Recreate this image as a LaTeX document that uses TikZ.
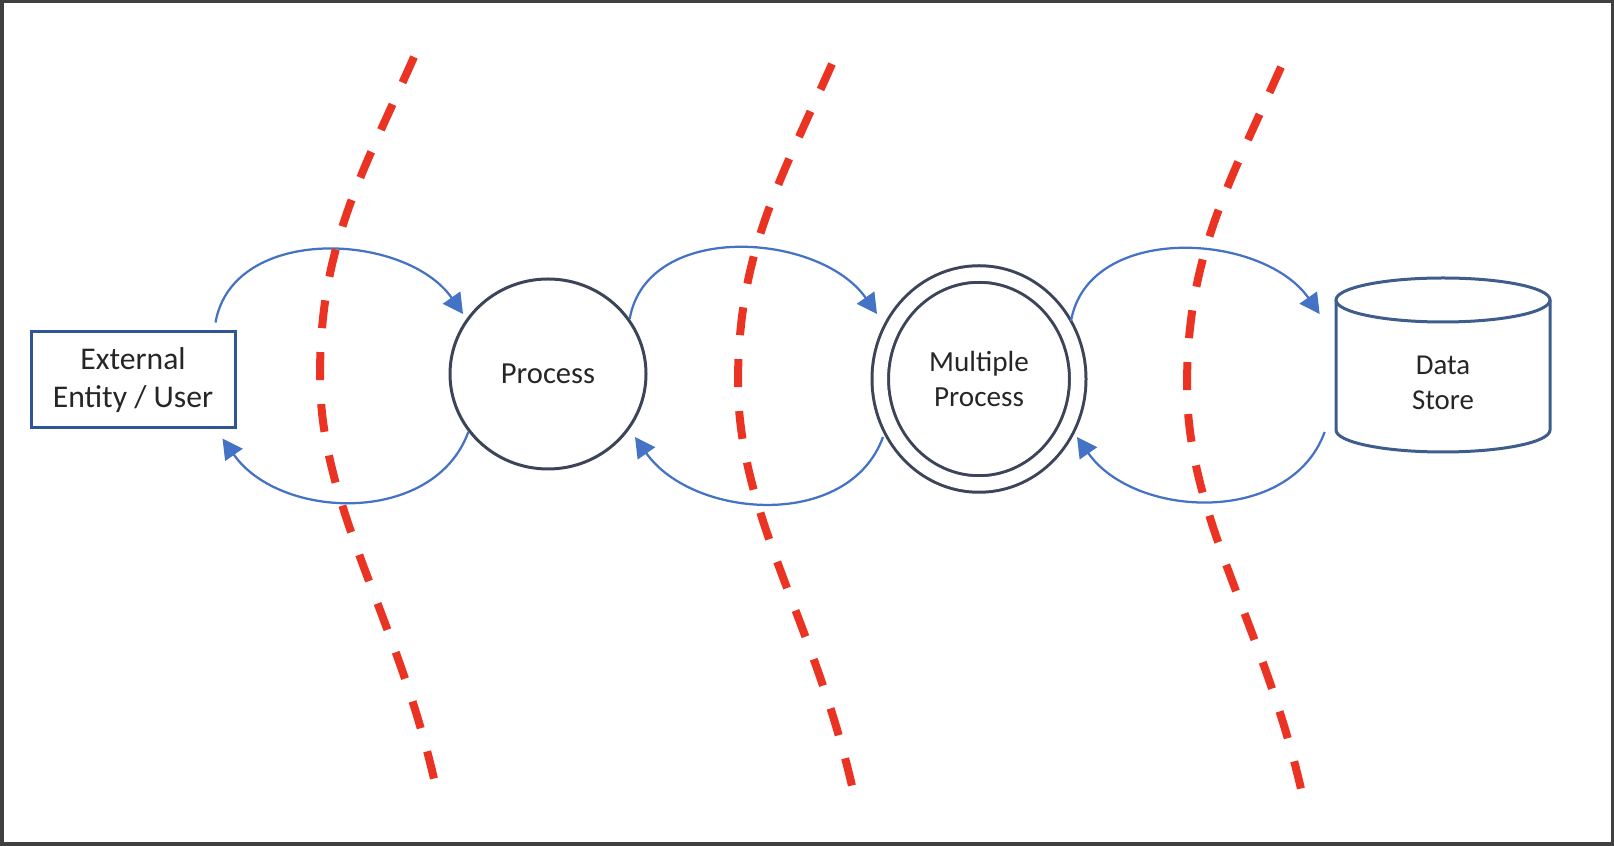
\documentclass[tikz,border=0pt]{standalone}
\usepackage{fontspec}
\setmainfont{Carlito}
\usepackage{xcolor}
\usetikzlibrary{shapes,arrows.meta}

\definecolor{flowblue}{RGB}{68,114,196}
\definecolor{boxblue}{RGB}{47,85,151}
\definecolor{circgray}{RGB}{59,68,88}
\definecolor{storeblue}{RGB}{62,92,140}
\definecolor{trustred}{RGB}{234,51,35}
\definecolor{textgray}{RGB}{38,38,38}
\definecolor{framegray}{RGB}{64,64,64}

\begin{document}
\begin{tikzpicture}[
  flow/.style={line width=0.045cm, flowblue, -{Triangle[length=0.4cm,width=0.42cm]}},
  boundary/.style={line width=0.16cm, trustred, dash pattern=on 0.56cm off 0.48cm},
  procshape/.style={ellipse, draw=circgray, line width=0.06cm, inner sep=0pt, align=center, text=textgray}
  ]
\useasboundingbox (0,0) rectangle (32.28,16.92);
\draw[line width=0.07cm, framegray] (0.035,0.035) rectangle (32.245,16.885);

% elements
\node[draw=boxblue, line width=0.06cm, minimum width=4.08cm, minimum height=1.92cm, align=center, text=textgray, font=\fontsize{18}{22}\selectfont] (ext) at (2.66,9.32) {External\\Entity / User};
\node[procshape, minimum width=3.92cm, minimum height=3.80cm, font=\fontsize{17.4}{21}\selectfont] (proc) at (10.96,9.44) {Process};
\node[procshape, double, double distance=0.27cm, minimum width=3.95cm, minimum height=4.2cm, font=\fontsize{16.6}{19.4}\selectfont] (mproc) at (19.58,9.34) {Multiple\\Process};
\node[align=center, text=textgray, minimum width=4.28cm, inner sep=0pt, font=\fontsize{16.4}{20}\selectfont] (store) at (28.86,9.27) {Data\\Store};
\draw[line width=0.06cm, storeblue] ([shift={(-2.14,1.65)}]store.center) -- ([shift={(-2.14,-0.95)}]store.center) arc[start angle=180, end angle=360, x radius=2.14, y radius=0.44] -- ([shift={(2.14,1.65)}]store.center);
\draw[line width=0.06cm, storeblue] ([yshift=1.65cm]store.center) ellipse[x radius=2.14, y radius=0.44];

% data flows
\draw[flow] ([shift={(-0.42,0.16)}]ext.north east) .. controls +(80:2) and +(125:2) .. ([shift={(-1.70,1.20)}]proc.center);
\draw[flow] (proc.216) .. controls +(-110:2) and +(-55:2) .. ([shift={(-0.28,-0.18)}]ext.south east);
\draw[flow] (proc.34) .. controls +(80:2) and +(125:2) .. ([shift={(-2.04,1.30)}]mproc.center);
\draw[flow] ([shift={(-1.92,-1.16)}]mproc.center) .. controls +(-110:2) and +(-55:2) .. ([shift={(1.74,-1.26)}]proc.center);
\draw[flow] ([shift={(1.84,1.16)}]mproc.center) .. controls +(80:2) and +(125:2) .. ([shift={(-0.32,1.37)}]store.west);
\draw[flow] ([shift={(-0.22,-0.99)}]store.west) .. controls +(-110:2) and +(-55:2) .. ([shift={(1.96,-1.16)}]mproc.center);

% trust boundaries
\draw[boundary] (8.28,15.78) .. controls +(-114:2.6) and +(90:2.6) .. (6.40,9.40) .. controls +(-90:2.6) and +(103:3.4) .. (8.68,1.34);
\draw[boundary] (16.64,15.64) .. controls +(-114:2.6) and +(90:2.6) .. (14.76,9.26) .. controls +(-90:2.6) and +(103:3.4) .. (17.04,1.20);
\draw[boundary] (25.62,15.58) .. controls +(-114:2.6) and +(90:2.6) .. (23.74,9.20) .. controls +(-90:2.6) and +(103:3.4) .. (26.02,1.14);
\end{tikzpicture}
\end{document}
